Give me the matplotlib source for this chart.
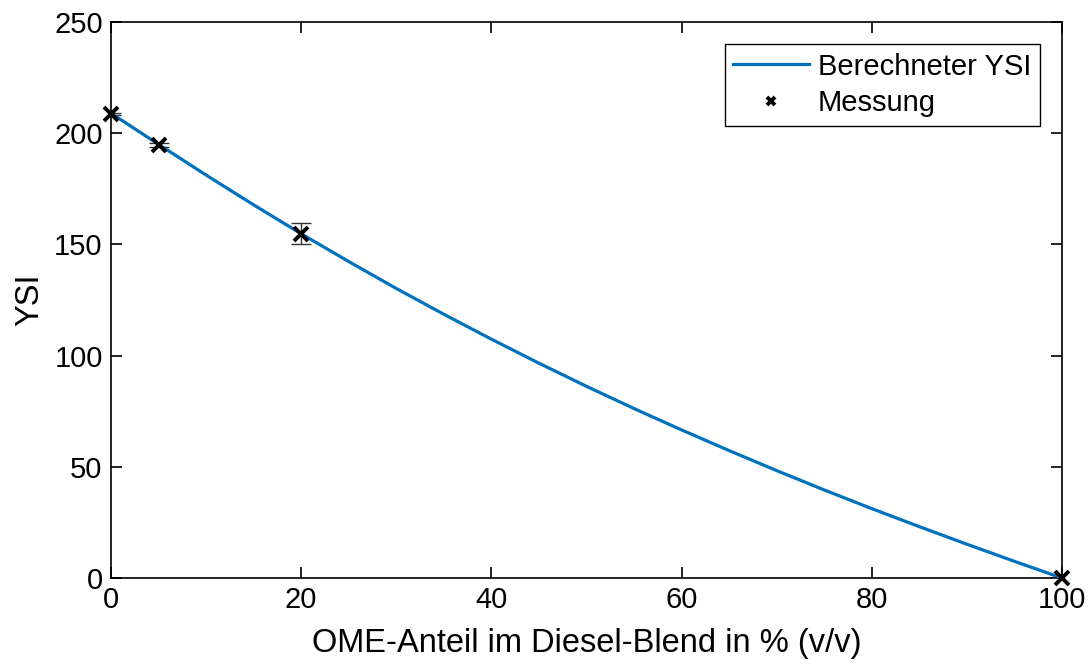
import numpy as np
import matplotlib.pyplot as plt

plt.rcParams['font.family'] = ['Liberation Sans', 'DejaVu Sans']

# Berechneter YSI
curve_x = [0, 5, 10, 15, 20, 25, 30, 35, 40, 45, 50, 55, 60, 65, 70, 75, 80, 85, 90, 95, 100]
curve_y = [209, 195, 181.2, 167.8, 154.8, 142.3, 130.2, 118.6, 107.4, 96.6, 86.2, 76.2,
           66.6, 57.3, 48.3, 39.6, 31.2, 23.1, 15.2, 7.5, 0]

# Messung
meas_x = [0, 5, 20, 100]
meas_y = [208.6, 194.7, 154.8, 0]
meas_err = [0.6, 1.0, 4.7, 0]

fig = plt.figure(figsize=(10.89, 6.68), dpi=100)
ax = fig.add_axes([0.1019, 0.1347, 0.8733, 0.8323])

ax.plot(curve_x, curve_y, color='#0072BD', lw=2.3, label='Berechneter YSI', zorder=3)
ax.errorbar(meas_x, meas_y, yerr=meas_err, fmt='none', ecolor='#333333', elinewidth=1.0,
            capsize=7, capthick=1.0, zorder=4)
ax.plot(meas_x, meas_y, 'x', color='black', ms=10, mew=2.8, label='Messung', zorder=5,
        clip_on=False)

ax.set_xlim(0, 100)
ax.set_ylim(0, 250)
ax.set_xticks(np.arange(0, 101, 20))
ax.set_yticks(np.arange(0, 251, 50))
ax.tick_params(direction='in', length=8, width=1.2, labelsize=21, top=True, right=True,
               pad=6)
for s in ax.spines.values():
    s.set_linewidth(1.2)

ax.set_xlabel('OME-Anteil im Diesel-Blend in % (v/v)', fontsize=23.5, labelpad=10)
ax.set_ylabel('YSI', fontsize=23.5, labelpad=6)

leg = ax.legend(loc='upper right', fontsize=21, fancybox=False, edgecolor='black',
                framealpha=1, borderaxespad=0.75, handlelength=2.6, borderpad=0.3,
                labelspacing=0.3, handletextpad=0.3, markerscale=0.6)
leg.get_frame().set_linewidth(1.0)

fig.savefig('out.png', dpi=100)
